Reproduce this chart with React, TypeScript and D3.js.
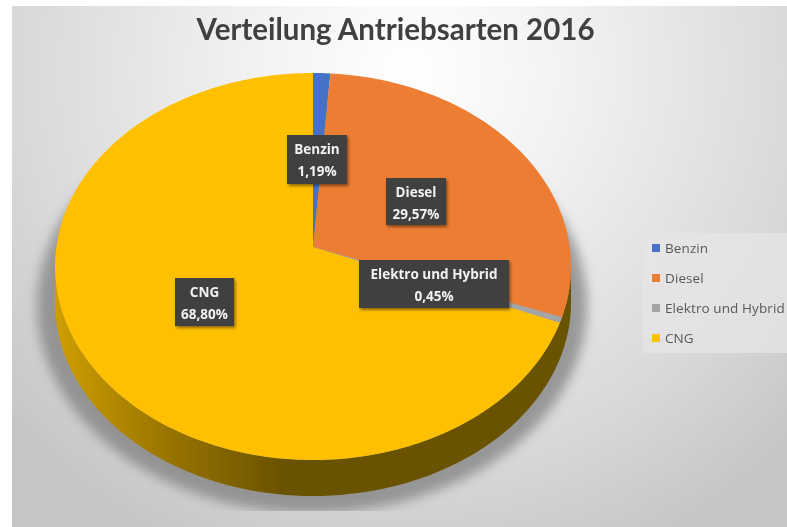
import React from "react";
import * as d3 from "d3";

const categories = ["Benzin", "Diesel", "Elektro und Hybrid", "CNG"];
const shares = [1.19, 29.57, 0.45, 68.8];
const shareLabels = ["1,19%", "29,57%", "0,45%", "68,80%"];
const colors = ["#4472c4", "#ed7d31", "#a5a5a5", "#ffc000"];
const titleText = "Verteilung Antriebsarten 2016";

const W = 787, H = 527;
const cx = 313, cy = 266.5, rx = 258, ry = 193.5, apexDy = -19.5, depth = 36;
const persp = apexDy / ry;
const kx = rx * Math.sqrt(1 - persp * persp);

// Projects a point on the flat unit pie (angle clockwise from top) into the tilted ellipse
function project(theta: number, r = 1): [number, number] {
  const x = Math.sin(theta) * r, y = -Math.cos(theta) * r;
  const w = 1 + persp * y;
  return [cx + (kx * x) / w, cy + (apexDy + ry * y) / w];
}

const pieAngles = d3.pie<number>().sort(null).value((d) => d)(shares);
const lineGen = d3.line();

function slicePath(a0: number, a1: number) {
  const n = Math.max(2, Math.ceil((a1 - a0) / 0.02));
  const pts: [number, number][] = [project(0, 0)];
  d3.range(n + 1).forEach((i) => pts.push(project(a0 + ((a1 - a0) * i) / n)));
  return lineGen(pts) + "Z";
}

// Rim: lower half of the ellipse extruded downward
const rimTs = d3.range(0, 181).map((d) => (d * Math.PI) / 180);
const rimBottom: [number, number][] = rimTs.map((t) => [cx + rx * Math.cos(t), cy + ry * Math.sin(t) + depth]);
const rimTop: [number, number][] = rimTs.map((t) => [cx + rx * Math.cos(t), cy + ry * Math.sin(t)]).reverse() as [number, number][];
const rimPath = lineGen([...rimBottom, ...rimTop]) + "Z";

const labelBoxes = [
  { x: 287, y: 135, w: 60, h: 49 },
  { x: 386, y: 178, w: 60, h: 47 },
  { x: 359, y: 260, w: 150, h: 48 },
  { x: 175, y: 278, w: 59, h: 48 },
];
const legendY = d3.scalePoint<string>().domain(categories).range([248, 338]);

export default function App() {
  return (
    <svg
      width={W}
      height={H}
      viewBox={`0 0 ${W} ${H}`}
      style={{ position: "fixed", left: 0, top: 0, display: "block", background: "#fff" }}
    >
      <defs>
        <radialGradient id="bg" gradientUnits="userSpaceOnUse" cx={410} cy={70} r={530}>
          <stop offset="0" stopColor="#ffffff" />
          <stop offset="0.3" stopColor="#f2f2f2" />
          <stop offset="0.75" stopColor="#d8d8d8" />
          <stop offset="1" stopColor="#c6c6c6" />
        </radialGradient>
        <linearGradient id="rim" gradientUnits="userSpaceOnUse" x1={cx - rx} x2={cx - 30} y1={0} y2={0}>
          <stop offset="0" stopColor="#cf9e00" />
          <stop offset="0.5" stopColor="#987400" />
          <stop offset="1" stopColor="#6a5200" />
        </linearGradient>
        <filter id="blurShadow" x="-20%" y="-20%" width="140%" height="140%">
          <feGaussianBlur stdDeviation="6" />
        </filter>
        <filter id="boxShadow" x="-20%" y="-20%" width="150%" height="150%">
          <feDropShadow dx="1.5" dy="2" stdDeviation="1.5" floodColor="#000" floodOpacity="0.45" />
        </filter>
        <filter id="soft" x="-2%" y="-2%" width="104%" height="104%">
          <feGaussianBlur stdDeviation="0.4" />
        </filter>
        <clipPath id="plot">
          <rect x={12} y={6} width={W - 12} height={505} />
        </clipPath>
      </defs>

      <rect x={12} y={6} width={W - 12} height={H - 6} fill="url(#bg)" />

      <g clipPath="url(#plot)">
        <ellipse
          cx={cx - 1}
          cy={cy + depth + 3}
          rx={rx + 17}
          ry={ry + 14}
          fill="#808080"
          opacity={0.75}
          filter="url(#blurShadow)"
        />
      </g>

      <g filter="url(#soft)">
        <path d={rimPath} fill="url(#rim)" />
        {pieAngles.map((p, i) => (
          <path key={categories[i]} d={slicePath(p.startAngle, p.endAngle)} fill={colors[i]} />
        ))}
        <text
          x={395.5}
          y={40}
          textAnchor="middle"
          fontFamily="Lato, 'Open Sans', sans-serif"
          fontWeight={700}
          fontSize={29.5}
          fill="#404040"
        >
          {titleText}
        </text>

        {labelBoxes.map((b, i) => (
          <g key={categories[i]}>
            <rect x={b.x} y={b.y} width={b.w} height={b.h} fill="#404040" filter="url(#boxShadow)" />
            <text
              x={b.x + b.w / 2}
              y={b.y + 19}
              textAnchor="middle"
              fontFamily="'Open Sans', sans-serif"
              fontWeight={700}
              fontSize={13.5}
              fill="#f2f2f2"
            >
              {categories[i]}
            </text>
            <text
              x={b.x + b.w / 2}
              y={b.y + 41}
              textAnchor="middle"
              fontFamily="'Open Sans', sans-serif"
              fontWeight={700}
              fontSize={13.5}
              fill="#f2f2f2"
            >
              {shareLabels[i]}
            </text>
          </g>
        ))}

        <rect x={643} y={233} width={144} height={120} fill="#e6e6e6" opacity={0.75} />
        {categories.map((c, i) => (
          <g key={c}>
            <rect x={652} y={(legendY(c) as number) - 4} width={8} height={8} fill={colors[i]} />
            <text
              x={665}
              y={(legendY(c) as number) + 4.5}
              fontFamily="'Open Sans', sans-serif"
              fontSize={13.5}
              letterSpacing={0.1}
              fill="#595959"
            >
              {c}
            </text>
          </g>
        ))}
      </g>
    </svg>
  );
}
